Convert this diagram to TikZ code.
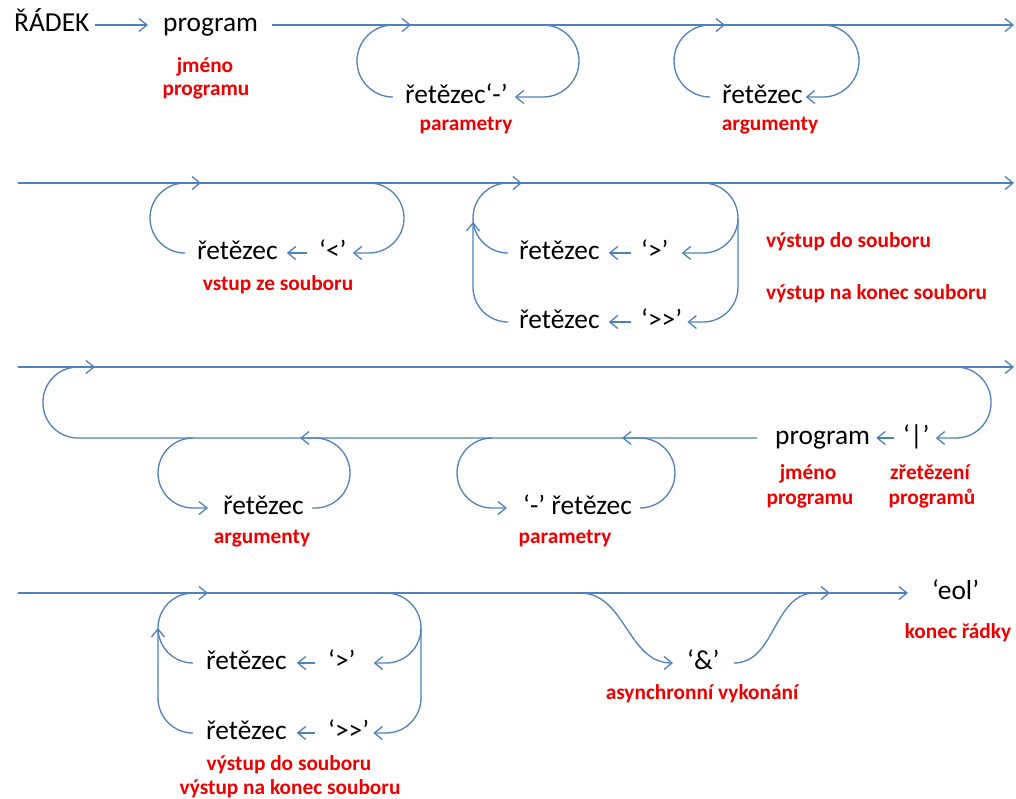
\documentclass[tikz,border=0pt]{standalone}
\usepackage{fontspec}
\setmainfont{Carlito}
\usetikzlibrary{arrows.meta}
\definecolor{lineblue}{HTML}{4F81BD}
\definecolor{lblred}{HTML}{EE0000}
\tikzset{
  rail/.style={draw=lineblue, line width=1.3pt},
  ar/.style={rail, -{Straight Barb[length=8pt,width=13pt]}},
  term/.style={inner sep=0pt, font=\fontsize{27.4}{32}\selectfont, text height=12.5pt, text depth=0pt, anchor=west},
  lbl/.style={inner sep=0pt, font=\bfseries\fontsize{21.33}{26}\selectfont, text=lblred, anchor=mid},
}
\newcommand{\gtgt}{>\kern0pt>}
\begin{document}
\fontsize{26.67}{32}\selectfont
\begin{tikzpicture}[x=1pt,y=-1pt]
\useasboundingbox[fill=white] (0,0) rectangle (1016,798);

% ---------- Row 1 ----------
\node[term] (radek) at (14,25) {ŘÁDEK};
\node[term] (prog1) at (163,25) {program};
\node[term] (retA) at (405,97) {řetězec‘-’};
\node[term] (retB) at (722,97) {řetězec};
\node[lbl] (l1a) at (205,66) {jméno};
\node[lbl] (l1b) at (206,89) {programu};
\node[lbl] (l1c) at (466,124) {parametry};
\node[lbl] (l1d) at (770,124) {argumenty};
\coordinate (e1) at (1014,25);
\draw[ar] ([xshift=5pt]radek.east) -- ([xshift=-15pt]prog1.west);
\draw[ar] ([xshift=14pt]prog1.east) -- (e1);
\draw[ar, rounded corners=36pt] ([xshift=-12pt]retA.west) -- (357,97) -- (357,25) -- (411,25);
\draw[ar, rounded corners=36pt] (543,25) -- (579,25) -- (579,97) -- ([xshift=7pt]retA.east);
\draw[ar, rounded corners=36pt] ([xshift=-12pt]retB.west) -- (674,97) -- (674,25) -- (725,25);
\draw[ar, rounded corners=36pt] (823,25) -- (859,25) -- (859,97) -- ([xshift=3pt]retB.east);

% ---------- Row 2 ----------
\coordinate (s2) at (18,183);
\coordinate (e2) at (1014,183);
\draw[ar] (s2) -- (e2);
\node[term] (retC) at (197,253) {řetězec};
\node[term] (ltC) at (319,253) {‘<’};
\node[term] (retD1) at (519,253) {řetězec};
\node[term] (gtD1) at (641,253) {‘>’};
\node[term] (retD2) at (519,322) {řetězec};
\node[term] (ggD2) at (641,322) {‘\gtgt’};
\node[lbl] (l2a) at (278,284) {vstup ze souboru};
\node[lbl, anchor=mid west] (l2b) at (766,241) {výstup do souboru};
\node[lbl, anchor=mid west] (l2c) at (766,293) {výstup na konec souboru};
\draw[ar, rounded corners=35pt] ([xshift=-12pt]retC.west) -- (150,253) -- (150,183) -- (201,183);
\draw[ar] ([xshift=-12pt]ltC.west) -- ([xshift=9pt]retC.east);
\draw[ar, rounded corners=35pt] (369,183) -- (404,183) -- (404,253) -- ([xshift=6pt]ltC.east);
\draw[ar, rounded corners=35pt] ([xshift=-11pt]retD1.west) -- (473,253) -- (473,183) -- (522,183);
\draw[ar, rounded corners=35pt] ([xshift=-11pt]retD2.west) -- (473,322) -- (473,222);
\draw[ar] ([xshift=-10pt]gtD1.west) -- ([xshift=9pt]retD1.east);
\draw[ar] ([xshift=-10pt]ggD2.west) -- ([xshift=9pt]retD2.east);
\draw[ar, rounded corners=35pt] (703,183) -- (738,183) -- (738,253) -- ([xshift=13pt]gtD1.east);
\draw[ar, rounded corners=35pt] (738,218) -- (738,322) -- ([xshift=5pt]ggD2.east);

% ---------- Row 3 ----------
\coordinate (s3) at (18,367);
\coordinate (e3) at (1014,367);
\draw[ar] (s3) -- (e3);
\node[term] (prog2) at (775,438) {program};
\node[term] (pipe) at (903,438) {‘|’};
\node[term] (retE) at (223,508) {řetězec};
\node[term] (retF) at (523,508) {‘-’ řetězec};
\node[lbl] (l3a) at (808,473) {jméno};
\node[lbl] (l3b) at (810,498) {programu};
\node[lbl] (l3c) at (930,473) {zřetězení};
\node[lbl] (l3d) at (932,498) {programů};
\node[lbl] (l3e) at (262,537) {argumenty};
\node[lbl] (l3f) at (565,537) {parametry};
\draw[ar, rounded corners=35pt] ([xshift=-18pt]prog2.west) -- (43,438) -- (43,367) -- (95,367);
\draw[ar] ([xshift=-9pt]pipe.west) -- ([xshift=6pt]prog2.east);
\draw[ar, rounded corners=35pt] (956,367) -- (991,367) -- (991,438) -- ([xshift=6pt]pipe.east);
\draw[ar, rounded corners=35pt] (193,438) -- (158,438) -- (158,508) -- ([xshift=-15pt]retE.west);
\draw[ar, rounded corners=35pt] ([xshift=8pt]retE.east) -- (350,508) -- (350,438) -- (300,438);
\draw[ar, rounded corners=35pt] (492,438) -- (457,438) -- (457,508) -- ([xshift=-16pt]retF.west);
\draw[ar, rounded corners=35pt] ([xshift=8pt]retF.east) -- (675,508) -- (675,438) -- (622,438);

% ---------- Row 4 ----------
\coordinate (s4) at (18,593);
\node[term] (eol) at (932,593) {‘eol’};
\node[term] (amp) at (687,663) {‘\&’};
\node[term] (retG1) at (206,663) {řetězec};
\node[term] (gtG1) at (328,663) {‘>’};
\node[term] (retG2) at (206,733) {řetězec};
\node[term] (ggG2) at (328,733) {‘\gtgt’};
\node[lbl] (l4a) at (958,632) {konec řádky};
\node[lbl] (l4b) at (702,693) {asynchronní vykonání};
\node[lbl] (l4c) at (289,764) {výstup do souboru};
\node[lbl] (l4d) at (290,788) {výstup na konec souboru};
\draw[ar] (s4) -- ([xshift=-24pt]eol.west);
\draw[ar, rounded corners=35pt] ([xshift=-13pt]retG1.west) -- (158,663) -- (158,593) -- (208,593);
\draw[ar, rounded corners=35pt] ([xshift=-13pt]retG2.west) -- (158,733) -- (158,628);
\draw[ar] ([xshift=-13pt]gtG1.west) -- ([xshift=10pt]retG1.east);
\draw[ar] ([xshift=-13pt]ggG2.west) -- ([xshift=10pt]retG2.east);
\draw[ar, rounded corners=35pt] (386,593) -- (421,593) -- (421,663) -- ([xshift=18pt]gtG1.east);
\draw[ar, rounded corners=35pt] (421,628) -- (421,733) -- ([xshift=4pt]ggG2.east);
\coordinate (ampin) at (580,593);
\coordinate (ampout) at (815,593);
\coordinate (ampend) at (830,593);
\draw[ar] (ampin) to[out=0,in=180] ([xshift=-14pt]amp.west);
\draw[ar] ([xshift=14pt]amp.east) to[out=0,in=180] (ampout) -- (ampend);
\end{tikzpicture}
\end{document}
